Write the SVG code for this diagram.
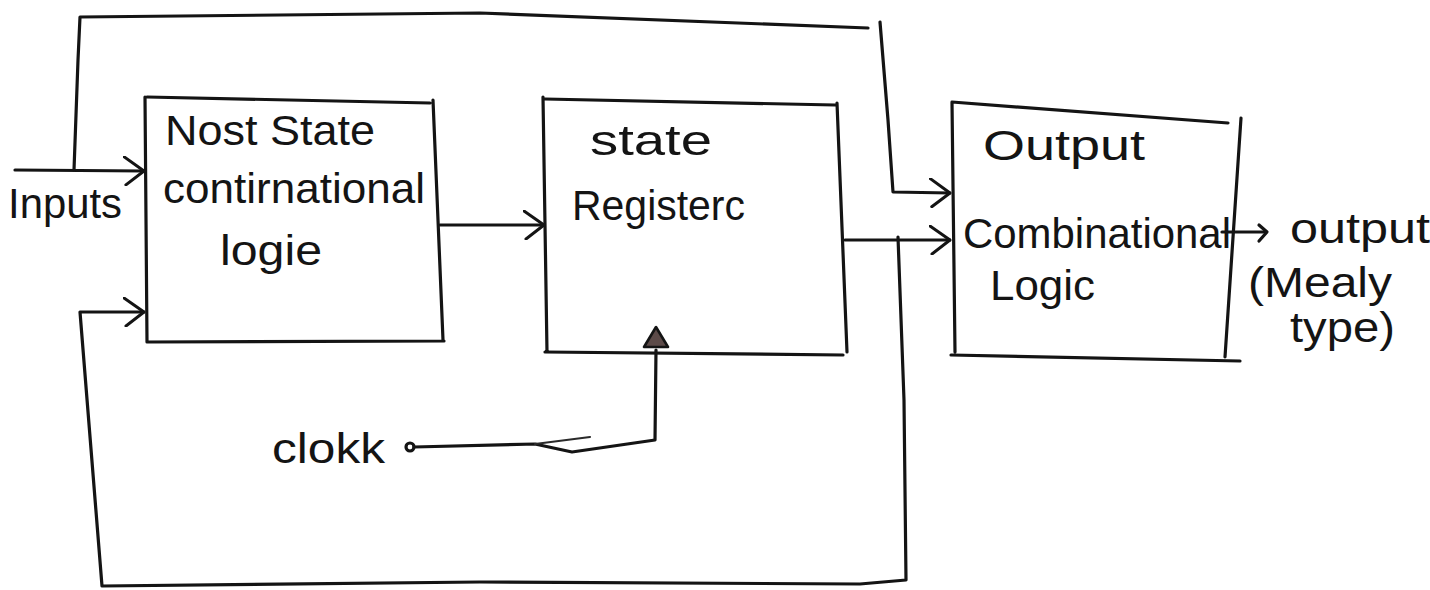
<svg xmlns="http://www.w3.org/2000/svg" width="1430" height="590" viewBox="0 0 1430 590">
  <style>
    .ink { fill: none; stroke: #141414; stroke-width: 3.2; stroke-linecap: round; stroke-linejoin: round; }
    .thin { fill: none; stroke: #2a2a2a; stroke-width: 2.2; stroke-linecap: round; }
    .lbl { font-family: "Liberation Sans", "DejaVu Sans", sans-serif; font-size: 42px; fill: #141414; }
  </style>
  <defs>
    <marker id="open-arrow" viewBox="0 0 22 30" refX="21" refY="15" markerWidth="22" markerHeight="30" markerUnits="userSpaceOnUse" orient="auto">
      <path d="M1,1 L21,15 L3,29" fill="none" stroke="#141414" stroke-width="3" stroke-linecap="round" stroke-linejoin="round"/>
    </marker>
  </defs>

  <rect width="1430" height="590" fill="#ffffff"/>

  <!-- connectors -->
  <g id="connectors">
    <!-- inputs into next-state logic -->
    <path class="ink" d="M15,170 L144,171" marker-end="url(#open-arrow)"/>
    <!-- inputs bypass over the top to the output logic -->
    <path class="ink" d="M74,170 L78,60 L80,17 L480,13 L868,28"/>
    <path class="ink" d="M880,22 L888,120 L893,192 L950,193" marker-end="url(#open-arrow)"/>
    <!-- next-state logic to state register -->
    <path class="ink" d="M440,225 L544,225" marker-end="url(#open-arrow)"/>
    <!-- state register to output logic -->
    <path class="ink" d="M845,240 L950,240" marker-end="url(#open-arrow)"/>
    <!-- state feedback loop -->
    <path class="ink" d="M898,237 L904,400 L906,580 L860,584 L480,582 L102,586 L80,312 L144,312" marker-end="url(#open-arrow)"/>
    <!-- clock line -->
    <circle cx="410" cy="447" r="4" class="ink" stroke-width="2.6"/>
    <path class="ink" d="M414,447 L535,444 L572,452 L655,440 L656,350"/>
    <path class="thin" d="M535,444 L590,437"/>
    <!-- output arrow -->
    <path class="ink" d="M1222,232 L1264,232"/>
    <path class="ink" d="M1259,225 L1267,232 L1259,241"/>
  </g>

  <!-- next-state combinational logic -->
  <g id="next-state-logic">
    <path class="ink" d="M145,97 L147,342 M147,97 L430,103 M433,100 L443,340 M147,342 L444,341"/>
    <text class="lbl" x="165" y="145" textLength="210" lengthAdjust="spacingAndGlyphs">Nost State</text>
    <text class="lbl" x="163" y="203" textLength="262" lengthAdjust="spacingAndGlyphs">contirnational</text>
    <text class="lbl" x="220" y="265" textLength="102" lengthAdjust="spacingAndGlyphs">logie</text>
  </g>

  <!-- state register -->
  <g id="state-register">
    <path class="ink" d="M543,97 L547,352 M545,99 L835,105 M837,103 L847,352 M545,352 L843,355"/>
    <text class="lbl" x="590" y="155" textLength="122" lengthAdjust="spacingAndGlyphs">state</text>
    <text class="lbl" x="572" y="220" textLength="173" lengthAdjust="spacingAndGlyphs">Registerc</text>
    <path d="M656,327 L644,347 L668,347 Z" fill="#5c4a48" stroke="#141414" stroke-width="2.6" stroke-linejoin="round"/>
  </g>

  <!-- output combinational logic -->
  <g id="output-logic">
    <path class="ink" d="M952,102 L955,352 M952,102 L1228,123 M1241,118 L1225,357 M951,355 L1240,361"/>
    <text class="lbl" x="983" y="160" textLength="162" lengthAdjust="spacingAndGlyphs">Output</text>
    <text class="lbl" x="963" y="248" textLength="268" lengthAdjust="spacingAndGlyphs">Combinational</text>
    <text class="lbl" x="990" y="300" textLength="105" lengthAdjust="spacingAndGlyphs">Logic</text>
  </g>

  <!-- labels -->
  <g id="inputs-label">
    <text class="lbl" x="8" y="218" textLength="114" lengthAdjust="spacingAndGlyphs">Inputs</text>
  </g>
  <g id="clock-label">
    <text class="lbl" x="272" y="463" textLength="113" lengthAdjust="spacingAndGlyphs">clokk</text>
  </g>
  <g id="output-label">
    <text class="lbl" x="1290" y="243" textLength="140" lengthAdjust="spacingAndGlyphs">output</text>
    <text class="lbl" x="1248" y="297" textLength="144" lengthAdjust="spacingAndGlyphs">(Mealy</text>
    <text class="lbl" x="1290" y="342" textLength="105" lengthAdjust="spacingAndGlyphs">type)</text>
  </g>
</svg>
